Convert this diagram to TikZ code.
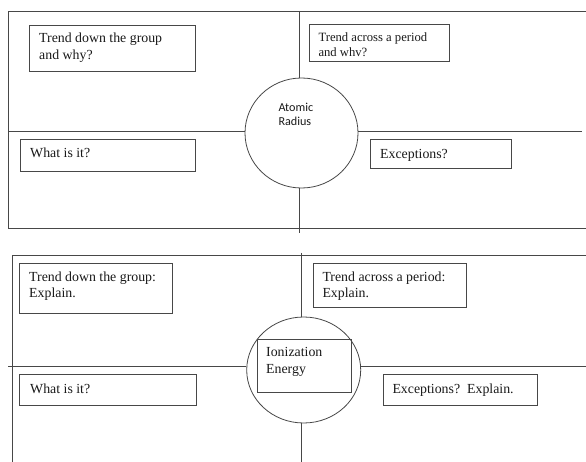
\documentclass[tikz,border=0pt]{standalone}
\usepackage{fontspec}
\setmainfont{Liberation Serif}
\newfontfamily\sansf{Carlito}
\usetikzlibrary{shapes.geometric}
\begin{document}
\begin{tikzpicture}[x=1bp,y=-1bp,
  ln/.style={draw=black!72,line width=0.8bp},
  box/.style={ln,rectangle,inner sep=0pt,anchor=north west},
  hub/.style={ln,ellipse,inner sep=0pt},
  txt/.style={inner sep=0pt,anchor=base west,align=left,text=black!90,
    font=\fontsize{13.9}{16.5}\selectfont},
  txts/.style={txt,font=\fontsize{12.7}{15}\selectfont},
  stxt/.style={inner sep=0pt,anchor=base west,align=left,text=black!90,
    font=\sansf\fontsize{12.2}{14.7}\selectfont}]
\useasboundingbox (0,0) rectangle (586,462);
% ---------- top panel: Atomic Radius ----------
\coordinate (a1) at (8,11);
\coordinate (a2) at (586,11);
\coordinate (a3) at (8,228);
\coordinate (a4) at (586,228);
\coordinate (av1) at (299.5,11);
\coordinate (av2) at (299.5,233);
\coordinate (ah1) at (8,131);
\coordinate (ah2) at (582,131);
\node[hub,minimum width=113bp,minimum height=110bp] (ca) at (301.5,133) {};
\draw[ln] (a2) -- (a1) -- (a3) -- (a4);
\draw[ln] (av1) -- (av1 |- ca.north);
\draw[ln] (av2 |- ca.south) -- (av2);
\draw[ln] (ah1) -- (ah1 -| ca.west);
\draw[ln] (ah2 -| ca.east) -- (ah2);
\node[stxt] (tca) at (278.3,125.7) {Atomic\\Radius};
\node[box,minimum width=165.7bp,minimum height=45.7bp] (b1) at (29.3,25) {};
\node[txt] (tb1) at (39,59.3) {Trend down the group\\and why?};
\node[box,minimum width=140bp,minimum height=37bp] (b3) at (309,24) {};
\node[txts] (tb3) at (318.3,56.7) {Trend across a period\\and whv?};
\node[box,minimum width=175bp,minimum height=32bp] (b2) at (20,139) {};
\node[txt] (tb2) at (30,157.7) {What is it?};
\node[box,minimum width=141bp,minimum height=29bp] (b4) at (370,139) {};
\node[txt] (tb4) at (380,158.3) {Exceptions?};
% ---------- bottom panel: Ionization Energy ----------
\coordinate (c1) at (12.7,255);
\coordinate (c2) at (586,255);
\coordinate (c3) at (12.7,462);
\coordinate (cv1) at (301.7,253);
\coordinate (cv2) at (301.7,462);
\coordinate (ch1) at (8,366.7);
\coordinate (ch2) at (586,366.7);
\node[hub,minimum width=114bp,minimum height=106bp] (ce) at (303.7,370) {};
\draw[ln] (c2) -- (c1) -- (c3);
\draw[ln] (cv1) -- (cv1 |- ce.north);
\draw[ln] (cv2 |- ce.south) -- (cv2);
\draw[ln] (ch1) -- (ch1 -| ce.west);
\draw[ln] (ch2 -| ce.east) -- (ch2);
\node[box,minimum width=94.3bp,minimum height=52.4bp] (bi) at (256.7,339.3) {};
\node[txt] (tbi) at (266,373.3) {Ionization\\Energy};
\node[box,minimum width=153bp,minimum height=50bp] (d1) at (19.3,263.3) {};
\node[txt] (td1) at (29,297.7) {Trend down the group:\\Explain.};
\node[box,minimum width=153bp,minimum height=43.4bp] (d2) at (312.7,263.3) {};
\node[txt] (td2) at (322.3,297.7) {Trend across a period:\\Explain.};
\node[box,minimum width=176.7bp,minimum height=30.7bp] (d3) at (19.3,374.3) {};
\node[txt] (td3) at (30,393.3) {What is it?};
\node[box,minimum width=153.7bp,minimum height=30.7bp] (d4) at (383,374.3) {};
\node[txt] (td4) at (392.3,393.3) {Exceptions?\ \ Explain.};
\end{tikzpicture}
\end{document}
